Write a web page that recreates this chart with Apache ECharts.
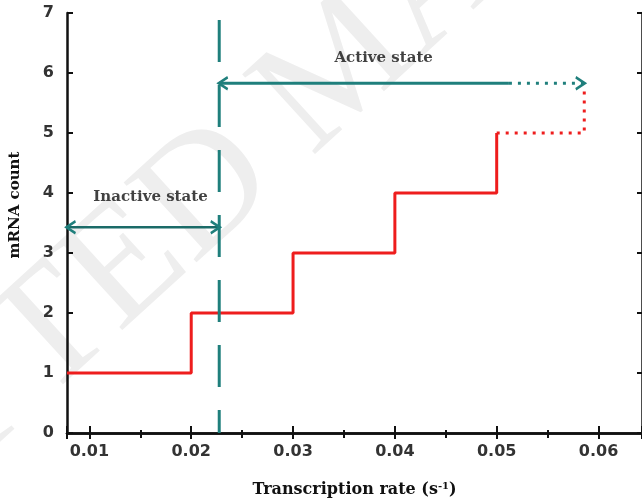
<!DOCTYPE html>
<html>
<head>
<meta charset="utf-8">
<script src="https://cdn.jsdelivr.net/npm/echarts@6/dist/echarts.min.js"></script>
<style>html,body{margin:0;padding:0;background:#fff}#c{width:642px;height:503px}</style>
</head>
<body>
<div id="c"></div>
<script>
// ---- data ----
const X_MIN = 0.0078, X_MAX = 0.06427;
const Y_MIN = 0, Y_MAX = 7;
const stepX = [0.0078, 0.02, 0.03, 0.04, 0.05];
const stepY = [1, 2, 3, 4, 5];
const extX = [0.05, 0.0586, 0.0586];
const extY = [5, 5, 5.7];
const thresholdX = 0.02275;
const activeY = 5.83, activeSolidEnd = 0.0512, activeEnd = 0.0586;
const inactiveY = 3.43;
const labelTexts = ['Active state', 'Inactive state'];
const labelX = [0.0389, 0.0160];
const labelY = [6.25, 3.93];

const TEAL = '#1f7f7c', RED = '#ee1d1d', BLACK = '#111';
const LEFT_HEAD = 'path://M10,0 L0,5 L10,10';
const RIGHT_HEAD = 'path://M0,0 L10,5 L0,10';
const zip = (a, b) => a.map((v, i) => [v, b[i]]);
const head = (x, y, sym, dir) => ({value: [x, y], symbol: sym, symbolSize: [9, 12], symbolOffset: [dir * 4, 0]});
const plain = (x, y) => ({value: [x, y], symbol: 'none'});

const tickFont = {fontFamily: 'DejaVu Sans', fontWeight: 'bold', fontSize: 16, color: '#333'};
const serif = {fontFamily: 'DejaVu Serif', fontWeight: 'bold', color: '#111'};

const chart = echarts.init(document.getElementById('c'), null, {renderer: 'canvas'});
chart.setOption({
  animation: false,
  backgroundColor: '#fff',
  graphic: [{
    type: 'text', z: -10, x: 345, y: 68, rotation: 0.74,
    style: {text: 'ACCEPTED MANUSCRIPT', fontFamily: 'Liberation Serif', fontSize: 165,
      fill: '#eeeeee', align: 'center', verticalAlign: 'middle'}
  }],
  grid: {left: 66, top: 13, width: 576, height: 420, containLabel: false},
  xAxis: [{
    type: 'value', position: 'bottom', min: X_MIN, max: X_MAX,
    axisLine: {show: true, lineStyle: {color: BLACK, width: 2.5}},
    axisTick: {show: true, inside: true, length: 7, lineStyle: {color: BLACK, width: 2}},
    minorTick: {show: true, splitNumber: 2, length: 3, lineStyle: {color: BLACK, width: 2}},
    axisLabel: Object.assign({show: true, margin: 11, showMinLabel: false, showMaxLabel: false,
      formatter: v => v.toFixed(2)}, tickFont),
    splitLine: {show: false}, minorSplitLine: {show: false},
    name: 'Transcription rate (s{sup|-1})', nameLocation: 'middle', nameGap: 48,
    nameTextStyle: Object.assign({fontSize: 16, rich: {sup: Object.assign({fontSize: 10, verticalAlign: 'top', padding: [0, 0, 8, 0]}, serif)}}, serif)
  }, {
    type: 'value', position: 'top', min: X_MIN, max: X_MAX,
    axisLine: {show: true, lineStyle: {color: BLACK, width: 2.5}},
    axisTick: {show: true, inside: true, length: 6, lineStyle: {color: BLACK, width: 2}},
    minorTick: {show: true, splitNumber: 2, length: 5, lineStyle: {color: BLACK, width: 2}},
    axisLabel: {show: false}, splitLine: {show: false}
  }],
  yAxis: [{
    type: 'value', position: 'left', min: Y_MIN, max: Y_MAX, interval: 1,
    axisLine: {show: true, lineStyle: {color: BLACK, width: 2.5}},
    axisTick: {show: true, inside: true, length: 6, lineStyle: {color: BLACK, width: 2}},
    axisLabel: Object.assign({show: true, margin: 13}, tickFont),
    splitLine: {show: false},
    name: 'mRNA count', nameLocation: 'middle', nameGap: 44,
    nameTextStyle: Object.assign({fontSize: 15, padding: [0, 0, 0, 36]}, serif)
  }, {
    type: 'value', position: 'right', min: Y_MIN, max: Y_MAX, interval: 1,
    axisLine: {show: true, lineStyle: {color: BLACK, width: 2.5}},
    axisTick: {show: true, inside: true, length: 5, lineStyle: {color: BLACK, width: 2}},
    axisLabel: {show: false}, splitLine: {show: false}
  }],
  series: [
    {type: 'line', step: 'end', data: zip(stepX, stepY), symbol: 'none', silent: true,
     lineStyle: {color: RED, width: 3}, z: 3},
    {type: 'line', data: zip(extX, extY), symbol: 'none', silent: true,
     lineStyle: {color: RED, width: 3, type: [3, 6]}, z: 3},
    {type: 'line', data: [[thresholdX, Y_MAX], [thresholdX, Y_MIN]], symbol: 'none', silent: true,
     lineStyle: {color: TEAL, width: 3, type: [42, 23], dashOffset: 58}, z: 4},
    {type: 'line', silent: true, showSymbol: true,
     data: [head(thresholdX, activeY, LEFT_HEAD, 1), plain(activeSolidEnd, activeY)],
     lineStyle: {color: TEAL, width: 3},
     itemStyle: {color: 'rgba(0,0,0,0)', borderColor: TEAL, borderWidth: 2.5}, z: 4},
    {type: 'line', silent: true, showSymbol: true,
     data: [plain(activeSolidEnd, activeY), head(activeEnd, activeY, RIGHT_HEAD, -1)],
     lineStyle: {color: TEAL, width: 3, type: [3, 6]},
     itemStyle: {color: 'rgba(0,0,0,0)', borderColor: TEAL, borderWidth: 2.5}, z: 4},
    {type: 'line', silent: true, showSymbol: true,
     data: [head(X_MIN, inactiveY, LEFT_HEAD, 1), head(thresholdX, inactiveY, RIGHT_HEAD, -1)],
     lineStyle: {color: '#1b6b68', width: 2.5},
     itemStyle: {color: 'rgba(0,0,0,0)', borderColor: TEAL, borderWidth: 2.5}, z: 4},
    {type: 'scatter', silent: true, symbolSize: 0,
     data: labelTexts.map((t, i) => ({name: t, value: [labelX[i], labelY[i]]})),
     label: Object.assign({show: true, position: 'inside', formatter: p => p.name, fontSize: 15}, serif), z: 5}
  ]
});
</script>
</body>
</html>
